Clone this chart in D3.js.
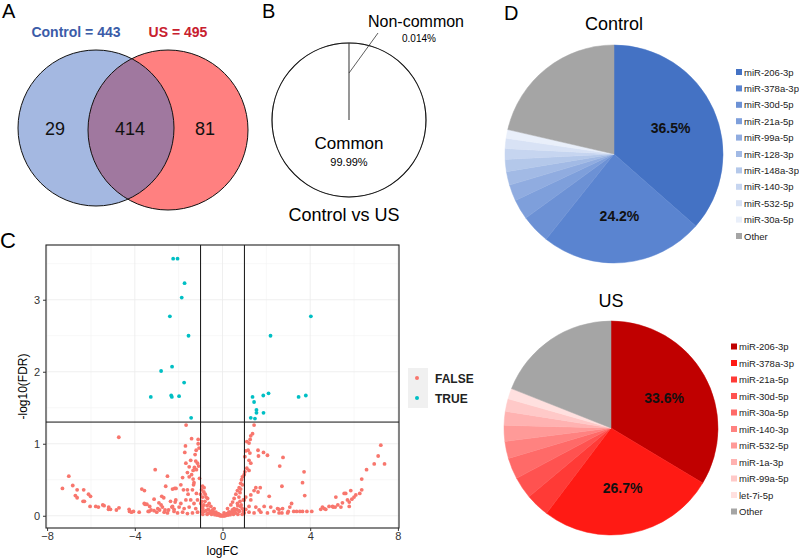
<!DOCTYPE html>
<html>
<head>
<meta charset="utf-8">
<script src="https://cdn.jsdelivr.net/npm/d3@7"></script>
<style>
body{margin:0;background:#fff;}
svg{font-family:"Liberation Sans",Arial,sans-serif;}
</style>
</head>
<body>
<svg width="799" height="559"></svg>
<script>
// ---- A: venn
var vennTitles = ["Control = 443", "US = 495"];
var vennCounts = [29, 414, 81];

// ---- B: common share
var shareNames = ["Common", "Non-common"];
var shareValues = [99.986, 0.014];
var shareLabels = ["99.99%", "0.014%"];

// ---- C: volcano
var xTicks = [-8, -4, 0, 4, 8];
var yTicks = [0, 1, 2, 3];
var fdrCut = 1.301;
var fcCut = [-1, 1];
var sigPoints = [
  [-2.25,3.57],[-2.05,3.57],[-1.73,3.23],[-1.86,3.03],[-2.40,2.77],[-1.55,2.50],[-2.30,2.07],
  [-2.80,2.01],[-1.75,1.85],[-3.27,1.65],[-2.34,1.67],[-2.31,1.65],[-1.98,1.66],[-1.43,1.36],
  [4.03,2.77],[2.19,2.50],[2.10,1.70],[1.86,1.67],[1.37,1.65],[1.44,1.58],[1.55,1.47],
  [1.55,1.43],[1.87,1.43],[1.29,1.36],[1.48,1.35],[3.47,1.65],[3.80,1.67]
];
var nonSigPoints = [
  [-4.73,1.09],[-7.01,0.55],[-7.30,0.38],[-6.83,0.42],[-6.63,0.36],[-6.33,0.36],[-6.71,0.28],[-6.63,0.25],
  [-6.11,0.30],[-6.02,0.27],[-6.36,0.20],[-6.30,0.20],[-6.04,0.13],[-5.78,0.13],[-5.66,0.12],[-5.46,0.15],
  [-5.40,0.14],[-5.19,0.12],[-5.11,0.09],[-5.20,0.09],[-4.84,0.08],[-4.72,0.11],[-4.26,0.09],[-4.24,0.06],
  [-4.06,0.06],[-3.07,0.64],[-3.68,0.37],[-3.56,0.35],[-3.53,0.16],[-3.45,0.16],[-3.32,0.13],[-3.12,0.23],
  [-3.26,0.08],[-3.12,0.07],[-3.39,0.06],[-2.77,0.27],[-2.68,0.25],[-2.59,0.41],[-2.51,0.55],[-2.28,0.37],
  [-2.18,0.38],[-2.37,0.20],[-2.80,0.15],[-2.74,0.12],[-2.87,0.08],[-2.62,0.08],[-2.46,0.08],[-2.31,0.12],
  [-2.21,0.09],[-2.16,0.19],[-2.51,0.04],[-3.57,0.17],[-3.35,0.06],[-2.66,0.05],[-2.95,0.10],[-3.80,0.05],
  [-4.15,0.05],[-3.00,0.05],[-2.90,0.18],
  [-1.66,1.26],[-1.41,1.07],[-1.11,1.06],[-1.69,0.97],[-1.11,1.00],[-1.07,0.94],[-1.72,0.88],[-1.20,0.91],
  [-1.22,0.76],[-1.14,0.73],[-1.09,0.69],[-1.28,0.67],[-1.34,0.63],[-1.19,0.64],[-1.41,0.57],[-1.60,0.60],
  [-1.52,0.54],[-1.82,0.53],[-1.34,0.51],[-1.32,0.43],[-1.90,0.43],[-2.12,0.38],[-1.78,0.36],[-1.60,0.36],
  [-1.37,0.36],[-1.19,0.31],[-1.57,0.30],[-0.91,0.41],[-0.84,0.39],[-0.96,0.36],[-0.85,0.33],[-0.79,0.30],
  [-0.91,0.26],[-0.68,0.24],[-2.13,0.22],[-1.67,0.22],[-1.45,0.22],[-1.14,0.22],[-1.90,0.17],[-1.30,0.17],
  [-0.99,0.17],[-0.61,0.17],[-2.28,0.13],[-1.98,0.12],[-1.75,0.10],[-1.52,0.12],[-1.22,0.10],[-0.91,0.13],
  [-0.53,0.13],[-0.38,0.10],[-1.67,0.73],[-1.45,0.77],[-1.52,0.68],[-1.25,0.85],[-1.30,0.46],[-1.05,0.52],
  [-1.00,0.30],
  [-2.21,0.06],[-2.05,0.04],[-1.82,0.05],[-1.60,0.03],[-1.37,0.04],[-1.14,0.05],[-0.84,0.06],[-0.68,0.03],
  [-0.46,0.04],[-0.31,0.03],[-0.15,0.02],[-0.08,0.01],
  [-0.90,0.02],[-0.70,0.02],[-0.50,0.02],[-0.35,0.015],[-0.25,0.01],[-0.15,0.005],[0.15,0.005],[0.25,0.01],
  [0.35,0.015],[0.50,0.02],[0.70,0.02],[0.90,0.02],[-0.95,0.06],[-0.75,0.07],[-0.55,0.06],[-0.40,0.05],
  [-0.30,0.05],[0.30,0.05],[0.40,0.05],[0.55,0.06],[0.75,0.07],[0.95,0.06],[-0.90,0.10],[-0.65,0.09],
  [-0.45,0.08],[0.45,0.08],[0.65,0.09],[0.90,0.10],[-0.85,0.15],[-0.70,0.14],[0.70,0.14],[0.85,0.15],
  [-0.10,0],[-0.05,0],[0,0],[0.05,0],[0.10,0],[-0.60,0.04],[-0.20,0.03],[0.20,0.03],[0.60,0.04],
  [-0.80,0.20],[0.80,0.20],[-0.75,0.26],[0.75,0.26],[-0.95,0.20],[0.95,0.22],
  [1.44,1.26],[1.37,1.14],[1.29,1.11],[1.26,1.06],[1.21,1.01],[1.11,1.03],[1.06,0.90],[1.17,0.91],
  [1.25,0.87],[1.62,0.91],[1.87,0.88],[2.05,0.84],[1.02,0.82],[1.21,0.77],[1.29,0.73],[1.64,0.83],
  [1.11,0.66],[1.21,0.63],[1.02,0.61],[0.99,0.57],[0.91,0.54],[0.87,0.50],[0.83,0.45],[0.91,0.43],
  [0.76,0.39],[0.83,0.37],[0.68,0.35],[0.80,0.32],[0.61,0.30],[1.52,0.39],[1.72,0.39],[1.44,0.35],
  [1.62,0.33],[1.29,0.29],[2.13,0.27],[1.06,0.26],[0.53,0.24],[0.46,0.19],[0.99,0.22],[1.29,0.22],
  [0.68,0.17],[0.38,0.15],[0.83,0.13],[1.21,0.13],[1.52,0.12],[1.90,0.13],[2.20,0.12],[0.23,0.10],
  [0.53,0.10],[1.06,0.09],[1.67,0.08],[2.51,0.10],
  [0.07,0.04],[0.30,0.05],[0.53,0.04],[0.76,0.06],[0.99,0.04],[1.21,0.05],[1.44,0.04],[1.75,0.05],
  [2.05,0.04],[2.35,0.06],[2.58,0.04],
  [7.22,0.98],[7.10,0.83],[6.92,0.72],[7.39,0.72],[6.57,0.64],[6.35,0.51],[6.35,0.36],[6.26,0.31],
  [6.08,0.29],[6.00,0.26],[5.85,0.35],[5.90,0.23],[5.78,0.19],[5.62,0.31],[5.55,0.31],[5.70,0.22],
  [5.78,0.13],[5.47,0.18],[5.40,0.12],[5.17,0.26],[5.26,0.15],[5.14,0.12],[5.05,0.12],[5.02,0.13],
  [4.86,0.13],[4.71,0.09],[4.56,0.12],[4.48,0.09],[4.64,0.10],[4.07,0.06],[3.85,0.06],[3.65,0.06],
  [3.53,0.06],[3.38,0.06],[3.72,0.61],[3.65,0.46],[3.75,0.28],[2.76,0.81],[2.61,0.69],[2.71,0.41],
  [3.15,0.17],[3.07,0.12],[2.97,0.04],[2.74,0.10],[2.71,0.04],[2.58,0.09],[3.00,0.06],[3.25,0.06]
];
var legendKeys = ["FALSE", "TRUE"];

// ---- D: top miRNA shares
var controlMirs = ["miR-206-3p","miR-378a-3p","miR-30d-5p","miR-21a-5p","miR-99a-5p","miR-128-3p",
  "miR-148a-3p","miR-140-3p","miR-532-5p","miR-30a-5p","Other"];
var controlPct = [36.5, 24.2, 4.3, 3.0, 2.4, 2.0, 1.8, 1.6, 1.5, 1.3, 21.4];
var controlColors = ["#4472c4","#5a84d0","#6c91d5","#7e9fdb","#90ace0","#a2bae5","#b4c8ea","#c6d5f0",
  "#d8e2f5","#e9effa","#a5a5a5"];
var usMirs = ["miR-206-3p","miR-378a-3p","miR-21a-5p","miR-30d-5p","miR-30a-5p","miR-140-3p",
  "miR-532-5p","miR-1a-3p","miR-99a-5p","let-7i-5p","Other"];
var usPct = [33.6, 26.7, 3.6, 3.3, 3.2, 2.6, 2.4, 2.1, 1.9, 1.6, 19.0];
var usColors = ["#c00000","#ff1a14","#ff3a36","#ff5250","#ff6a68","#ff8280","#ff9a98","#ffb2b1",
  "#ffc9c8","#ffe0df","#a5a5a5"];

var svg = d3.select("svg");

function panelLetter(t, x, y, size){
  svg.append("text").attr("x", x).attr("y", y).attr("font-size", size)
    .attr("font-weight", 500).text(t);
}

// ============ A
panelLetter("A", 2, 18, 20);
var vennA = {cx: 96, cy: 128, r: 78};
var vennB = {cx: 168, cy: 130, r: 80};
svg.append("clipPath").attr("id", "clipLeft").append("circle")
  .attr("cx", vennA.cx).attr("cy", vennA.cy).attr("r", vennA.r);
svg.append("circle").attr("cx", vennA.cx).attr("cy", vennA.cy).attr("r", vennA.r).attr("fill", "#a4b8e1");
svg.append("circle").attr("cx", vennB.cx).attr("cy", vennB.cy).attr("r", vennB.r).attr("fill", "#ff8080");
svg.append("circle").attr("cx", vennB.cx).attr("cy", vennB.cy).attr("r", vennB.r)
  .attr("fill", "#a0789f").attr("clip-path", "url(#clipLeft)");
[vennA, vennB].forEach(function(c){
  svg.append("circle").attr("cx", c.cx).attr("cy", c.cy).attr("r", c.r)
    .attr("fill", "none").attr("stroke", "#111").attr("stroke-width", 1);
});
svg.append("text").attr("x", 76).attr("y", 37).attr("text-anchor", "middle")
  .attr("font-size", 14).attr("font-weight", "bold").attr("fill", "#3b5ca8").text(vennTitles[0]);
svg.append("text").attr("x", 178).attr("y", 37).attr("text-anchor", "middle")
  .attr("font-size", 14).attr("font-weight", "bold").attr("fill", "#c8202e").text(vennTitles[1]);
var countX = [55, 130, 205];
vennCounts.forEach(function(v, i){
  svg.append("text").attr("x", countX[i]).attr("y", 135).attr("text-anchor", "middle")
    .attr("font-size", 18).attr("fill", "#111").text(v);
});

// ============ B
panelLetter("B", 262, 18, 20);
var bC = {x: 349, y: 120, r: 77};
var gB = svg.append("g").attr("transform", "translate(" + bC.x + "," + bC.y + ")");
var sharePie = d3.pie().sort(null)(shareValues);
gB.selectAll("path").data(sharePie).enter().append("path")
  .attr("d", d3.arc().innerRadius(0).outerRadius(bC.r))
  .attr("fill", "#fff").attr("stroke", "#888").attr("stroke-width", 0.8);
gB.append("circle").attr("r", bC.r).attr("fill", "none").attr("stroke", "#111").attr("stroke-width", 1.1);
gB.append("line").attr("x1", 0).attr("y1", -bC.r * 0.61).attr("x2", 29).attr("y2", -87)
  .attr("stroke", "#333").attr("stroke-width", 0.8);
gB.append("text").attr("x", 0).attr("y", 29).attr("text-anchor", "middle").attr("font-size", 17).text(shareNames[0]);
gB.append("text").attr("x", 0).attr("y", 46).attr("text-anchor", "middle").attr("font-size", 11).text(shareLabels[0]);
svg.append("text").attr("x", 416).attr("y", 27).attr("text-anchor", "middle").attr("font-size", 16).text(shareNames[1]);
svg.append("text").attr("x", 419).attr("y", 42).attr("text-anchor", "middle").attr("font-size", 10).text(shareLabels[1]);
svg.append("text").attr("x", 344).attr("y", 221).attr("text-anchor", "middle").attr("font-size", 18).text("Control vs US");

// ============ C
panelLetter("C", 0, 248, 22);
var pl = {left: 46, right: 399, top: 245, bottom: 528};
var x = d3.scaleLinear().domain([-8.05, 8.05]).range([pl.left, pl.right]);
var y = d3.scaleLinear().domain([-0.17, 3.76]).range([pl.bottom, pl.top]);
var gC = svg.append("g");
// grid
[-6, -2, 2, 6].forEach(function(v){
  gC.append("line").attr("x1", x(v)).attr("x2", x(v)).attr("y1", pl.top).attr("y2", pl.bottom)
    .attr("stroke", "#f2f2f2").attr("stroke-width", 0.6);
});
[0.5, 1.5, 2.5, 3.5].forEach(function(v){
  gC.append("line").attr("y1", y(v)).attr("y2", y(v)).attr("x1", pl.left).attr("x2", pl.right)
    .attr("stroke", "#f2f2f2").attr("stroke-width", 0.6);
});
xTicks.forEach(function(v){
  gC.append("line").attr("x1", x(v)).attr("x2", x(v)).attr("y1", pl.top).attr("y2", pl.bottom)
    .attr("stroke", "#ebebeb").attr("stroke-width", 0.8);
});
yTicks.forEach(function(v){
  gC.append("line").attr("y1", y(v)).attr("y2", y(v)).attr("x1", pl.left).attr("x2", pl.right)
    .attr("stroke", "#ebebeb").attr("stroke-width", 0.8);
});
gC.selectAll("circle.ns").data(nonSigPoints).enter().append("circle").attr("class", "ns")
  .attr("cx", function(d){ return x(d[0]); }).attr("cy", function(d){ return y(d[1]); })
  .attr("r", 1.9).attr("fill", "#f8766d");
gC.selectAll("circle.sg").data(sigPoints).enter().append("circle").attr("class", "sg")
  .attr("cx", function(d){ return x(d[0]); }).attr("cy", function(d){ return y(d[1]); })
  .attr("r", 1.9).attr("fill", "#00bfc4");
fcCut.forEach(function(v){
  gC.append("line").attr("x1", x(v)).attr("x2", x(v)).attr("y1", pl.top).attr("y2", pl.bottom)
    .attr("stroke", "#111").attr("stroke-width", 1);
});
gC.append("line").attr("x1", pl.left).attr("x2", pl.right).attr("y1", y(fdrCut)).attr("y2", y(fdrCut))
  .attr("stroke", "#111").attr("stroke-width", 1);
gC.append("rect").attr("x", pl.left).attr("y", pl.top).attr("width", pl.right - pl.left)
  .attr("height", pl.bottom - pl.top).attr("fill", "none").attr("stroke", "#222").attr("stroke-width", 1.1);

var xAxis = gC.append("g").attr("transform", "translate(0," + pl.bottom + ")")
  .call(d3.axisBottom(x).tickValues(xTicks).tickFormat(d3.format("d")).tickSize(3).tickPadding(1));
var yAxis = gC.append("g").attr("transform", "translate(" + pl.left + ",0)")
  .call(d3.axisLeft(y).tickValues(yTicks).tickFormat(d3.format("d")).tickSize(3).tickPadding(3));
[xAxis, yAxis].forEach(function(a){
  a.select(".domain").remove();
  a.selectAll("line").attr("stroke", "#333");
  a.selectAll("text").attr("font-size", 11).attr("fill", "#333").style("font-family", "Liberation Sans, Arial, sans-serif");
});
gC.append("text").attr("x", (pl.left + pl.right) / 2).attr("y", 555).attr("text-anchor", "middle")
  .attr("font-size", 12).text("logFC");
gC.append("text").attr("transform", "translate(27," + ((pl.top + pl.bottom) / 2) + ") rotate(-90)")
  .attr("text-anchor", "middle").attr("font-size", 12).text("-log10(FDR)");

// legend
var lg = gC.append("g").attr("transform", "translate(408,368)");
lg.append("rect").attr("width", 20).attr("height", 40).attr("fill", "#f0f0f0");
legendKeys.forEach(function(k, i){
  lg.append("circle").attr("cx", 9).attr("cy", 10 + i * 20).attr("r", 2).attr("fill", i ? "#00bfc4" : "#f8766d");
  lg.append("text").attr("x", 27).attr("y", 14.5 + i * 20).attr("font-size", 12).attr("font-weight", "bold")
    .attr("fill", "#222").text(k);
});

// ============ D
panelLetter("D", 504, 20, 20);

function drawPie(title, names, pct, colors, cx, cy, r, titleY, legX, legY, legStep){
  svg.append("text").attr("x", cx).attr("y", titleY).attr("text-anchor", "middle")
    .attr("font-size", 18).text(title);
  var g = svg.append("g").attr("transform", "translate(" + cx + "," + cy + ")");
  var arcs = d3.pie().sort(null)(pct);
  var arc = d3.arc().innerRadius(0).outerRadius(r);
  g.selectAll("path").data(arcs).enter().append("path")
    .attr("d", arc)
    .attr("fill", function(d, i){ return colors[i]; })
    .attr("stroke", function(d, i){ return colors[i]; }).attr("stroke-width", 0.5);
  var lab = d3.arc().innerRadius(r * 0.57).outerRadius(r * 0.57);
  g.selectAll("text").data(arcs.slice(0, 2)).enter().append("text")
    .attr("transform", function(d){ return "translate(" + lab.centroid(d) + ")"; })
    .attr("text-anchor", "middle").attr("dy", "0.35em")
    .attr("font-size", 14).attr("font-weight", "bold").attr("fill", "#111")
    .text(function(d){ return d.value.toFixed(1) + "%"; });
  var lgd = svg.append("g");
  names.forEach(function(n, i){
    lgd.append("rect").attr("x", legX).attr("y", legY + i * legStep - 3).attr("width", 6).attr("height", 6)
      .attr("fill", colors[i]);
    lgd.append("text").attr("x", legX + 8).attr("y", legY + i * legStep + 3.5).attr("font-size", 9.5)
      .attr("fill", "#222").text(n);
  });
}

drawPie("Control", controlMirs, controlPct, controlColors, 614, 154, 109, 30, 736, 72, 16.4);
drawPie("US", usMirs, usPct, usColors, 611, 428, 107, 307, 731, 346.5, 16.5);
</script>
</body>
</html>
